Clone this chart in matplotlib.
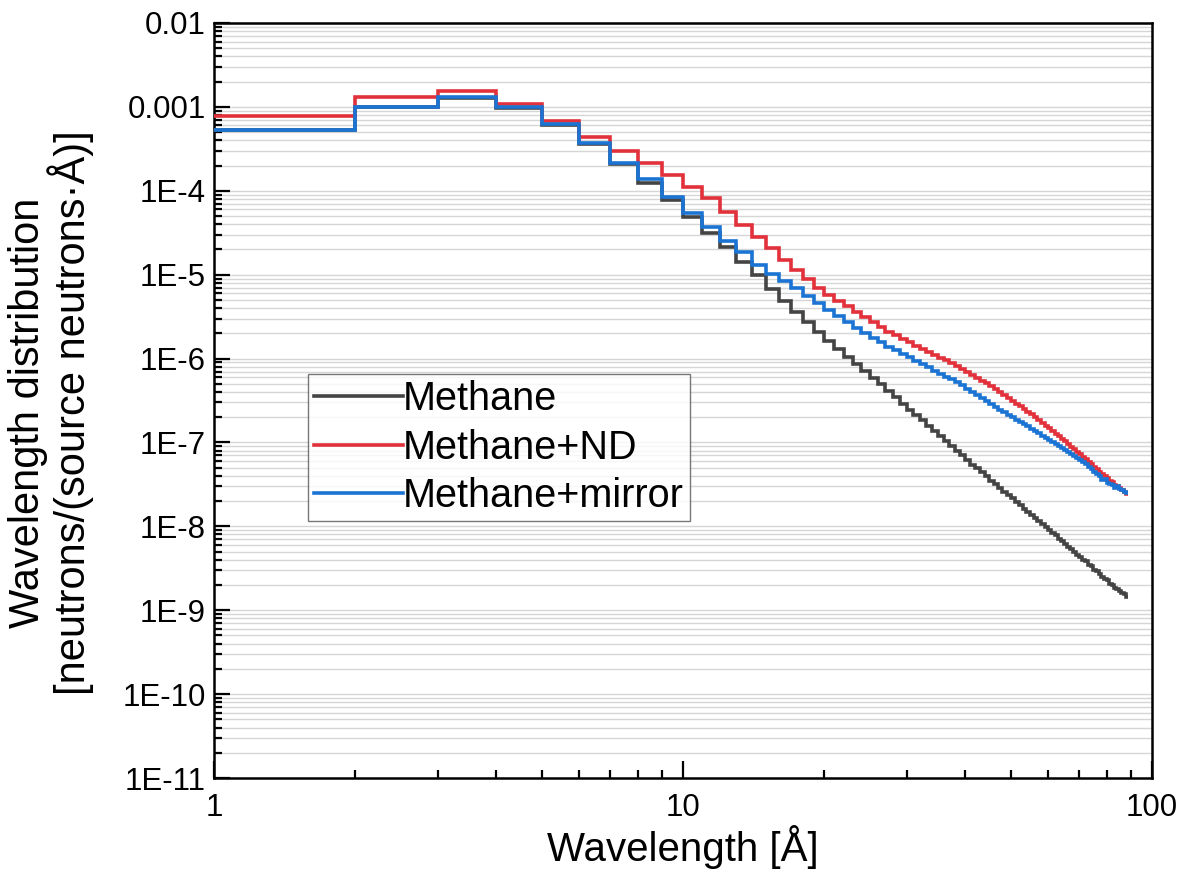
import matplotlib
matplotlib.use("Agg")
import matplotlib.pyplot as plt
from matplotlib.ticker import FixedLocator, LogLocator, NullFormatter

# 1 Å wide wavelength bins: left edges 1..88, last right edge 89
wavelength_edges = list(range(1, 90))

methane = [
    5.3e-4, 1.0e-3, 1.28e-3, 9.7e-4, 6.1e-4, 3.6e-4, 2.1e-4, 1.23e-4, 7.7e-5, 4.9e-5,
    3.13e-5, 2.15e-5, 1.4e-5, 9.8e-6, 6.8e-6, 4.9e-6, 3.6e-6, 2.7e-6, 2.1e-6, 1.62e-6,
    1.3e-6, 1.05e-6, 8.5e-7, 7.2e-7, 5.9e-7, 5.0e-7, 4.15e-7, 3.45e-7, 2.85e-7, 2.45e-7,
    2.1e-7, 1.85e-7, 1.58e-7, 1.37e-7, 1.2e-7, 1.05e-7, 9.1e-8, 8.0e-8, 7.0e-8, 6.1e-8,
    5.45e-8, 4.9e-8, 4.4e-8, 3.95e-8, 3.5e-8, 3.2e-8, 2.88e-8, 2.6e-8, 2.36e-8, 2.15e-8,
    1.95e-8, 1.8e-8, 1.62e-8, 1.5e-8, 1.36e-8, 1.25e-8, 1.15e-8, 1.06e-8, 9.8e-9, 9.0e-9,
    8.3e-9, 7.8e-9, 7.1e-9, 6.6e-9, 6.1e-9, 5.7e-9, 5.4e-9, 5.0e-9, 4.6e-9, 4.35e-9,
    4.0e-9, 3.85e-9, 3.5e-9, 3.35e-9, 3.0e-9, 2.95e-9, 2.7e-9, 2.5e-9, 2.35e-9, 2.3e-9,
    2.05e-9, 2.0e-9, 1.85e-9, 1.8e-9, 1.7e-9, 1.62e-9, 1.55e-9, 1.45e-9,
]

methane_nd = [
    7.7e-4, 1.32e-3, 1.56e-3, 1.07e-3, 6.7e-4, 4.35e-4, 3.0e-4, 2.13e-4, 1.54e-4, 1.12e-4,
    8.1e-5, 5.6e-5, 3.9e-5, 2.84e-5, 2.06e-5, 1.5e-5, 1.14e-5, 8.8e-6, 6.9e-6, 5.8e-6,
    4.9e-6, 4.2e-6, 3.6e-6, 3.15e-6, 2.75e-6, 2.4e-6, 2.1e-6, 1.89e-6, 1.71e-6, 1.56e-6,
    1.42e-6, 1.29e-6, 1.19e-6, 1.1e-6, 1.02e-6, 9.5e-7, 8.8e-7, 8.2e-7, 7.6e-7, 7.0e-7,
    6.4e-7, 5.9e-7, 5.45e-7, 5.05e-7, 4.65e-7, 4.35e-7, 4.0e-7, 3.65e-7, 3.4e-7, 3.1e-7,
    2.9e-7, 2.7e-7, 2.5e-7, 2.33e-7, 2.16e-7, 2.0e-7, 1.85e-7, 1.71e-7, 1.58e-7, 1.47e-7,
    1.37e-7, 1.27e-7, 1.19e-7, 1.11e-7, 1.04e-7, 9.6e-8, 8.9e-8, 8.3e-8, 7.7e-8, 7.2e-8,
    6.7e-8, 6.3e-8, 5.85e-8, 5.5e-8, 5.1e-8, 4.8e-8, 4.5e-8, 4.2e-8, 4.0e-8, 3.75e-8,
    3.5e-8, 3.35e-8, 3.15e-8, 3.0e-8, 2.85e-8, 2.7e-8, 2.55e-8, 2.45e-8,
]

methane_mirror = [
    5.3e-4, 1.0e-3, 1.3e-3, 9.9e-4, 6.2e-4, 3.68e-4, 2.16e-4, 1.37e-4, 8.5e-5, 5.45e-5,
    3.7e-5, 2.55e-5, 1.84e-5, 1.3e-5, 1.02e-5, 8.4e-6, 7.0e-6, 5.5e-6, 4.6e-6, 3.8e-6,
    3.2e-6, 2.7e-6, 2.3e-6, 2.0e-6, 1.77e-6, 1.57e-6, 1.39e-6, 1.25e-6, 1.13e-6, 1.03e-6,
    9.35e-7, 8.55e-7, 7.85e-7, 7.2e-7, 6.6e-7, 6.1e-7, 5.65e-7, 5.2e-7, 4.8e-7, 4.35e-7,
    4.0e-7, 3.65e-7, 3.35e-7, 3.1e-7, 2.85e-7, 2.65e-7, 2.45e-7, 2.3e-7, 2.14e-7, 2.0e-7,
    1.87e-7, 1.76e-7, 1.65e-7, 1.55e-7, 1.45e-7, 1.37e-7, 1.28e-7, 1.21e-7, 1.14e-7, 1.07e-7,
    1.01e-7, 9.5e-8, 9.0e-8, 8.6e-8, 8.1e-8, 7.7e-8, 7.3e-8, 6.9e-8, 6.6e-8, 6.25e-8,
    5.85e-8, 5.5e-8, 5.1e-8, 4.8e-8, 4.5e-8, 4.25e-8, 4.0e-8, 3.6e-8, 3.65e-8, 3.3e-8,
    3.2e-8, 3.1e-8, 2.85e-8, 3.0e-8, 2.8e-8, 2.7e-8, 2.6e-8, 2.5e-8,
]

series = [
    ("Methane", methane, "#444444"),
    ("Methane+ND", methane_nd, "#E2313B"),
    ("Methane+mirror", methane_mirror, "#1B74D3"),
]

xticks = [1, 10, 100]
xtick_labels = ["1", "10", "100"]
yticks = [1e-2, 1e-3, 1e-4, 1e-5, 1e-6, 1e-7, 1e-8, 1e-9, 1e-10, 1e-11]
ytick_labels = ["0.01", "0.001", "1E-4", "1E-5", "1E-6", "1E-7", "1E-8",
                "1E-9", "1E-10", "1E-11"]

plt.rcParams["font.family"] = ["Liberation Sans", "DejaVu Sans"]

fig = plt.figure(figsize=(11.87, 8.91), dpi=100)
ax = fig.add_axes([0.1803, 0.1268, 0.7902, 0.8474])

for label, vals, color in series:
    ax.stairs(vals, wavelength_edges, baseline=None, color=color, lw=2.6,
              label=label, zorder=3)

ax.set_xscale("log")
ax.set_yscale("log")
ax.set_xlim(1, 100)
ax.set_ylim(1e-11, 1e-2)

ax.xaxis.set_major_locator(FixedLocator(xticks))
ax.set_xticklabels(xtick_labels)
ax.xaxis.set_minor_locator(LogLocator(base=10, subs=range(2, 10), numticks=20))
ax.xaxis.set_minor_formatter(NullFormatter())
ax.yaxis.set_major_locator(FixedLocator(yticks))
ax.set_yticklabels(ytick_labels)
ax.yaxis.set_minor_locator(LogLocator(base=10, subs=range(2, 10), numticks=30))
ax.yaxis.set_minor_formatter(NullFormatter())

ax.tick_params(which="both", direction="in", top=False, right=False,
               labelsize=22.5, width=1.6, color="black")
ax.tick_params(axis="y", which="major", length=11.5, pad=6)
ax.tick_params(axis="y", which="minor", length=5.8)
ax.tick_params(axis="x", which="major", length=12, pad=11)
ax.tick_params(axis="x", which="minor", length=6)

ax.yaxis.grid(True, which="both", color="#d6d6d6", lw=1.0)
ax.xaxis.grid(False)
ax.set_axisbelow(True)
for sp in ax.spines.values():
    sp.set_linewidth(1.8)

ax.set_xlabel("Wavelength [Å]", fontsize=29)
ax.xaxis.set_label_coords(0.5, -0.062)
fig.text(0.043, 0.537, "Wavelength distribution\n[neutrons/(source neutrons·Å)]",
         rotation=90, ha="center", va="center", fontsize=30, linespacing=1.0)

leg = ax.legend(loc="upper left", bbox_to_anchor=(308 / 1187, 1 - 374 / 891),
                bbox_transform=fig.transFigure, fontsize=28.5, frameon=True,
                fancybox=False, handlelength=2.25, handletextpad=0.0,
                labelspacing=0.27, borderpad=0.15, borderaxespad=0)
leg.get_frame().set_edgecolor("#555555")
leg.get_frame().set_linewidth(1.0)

fig.savefig("out.png", dpi=100)
